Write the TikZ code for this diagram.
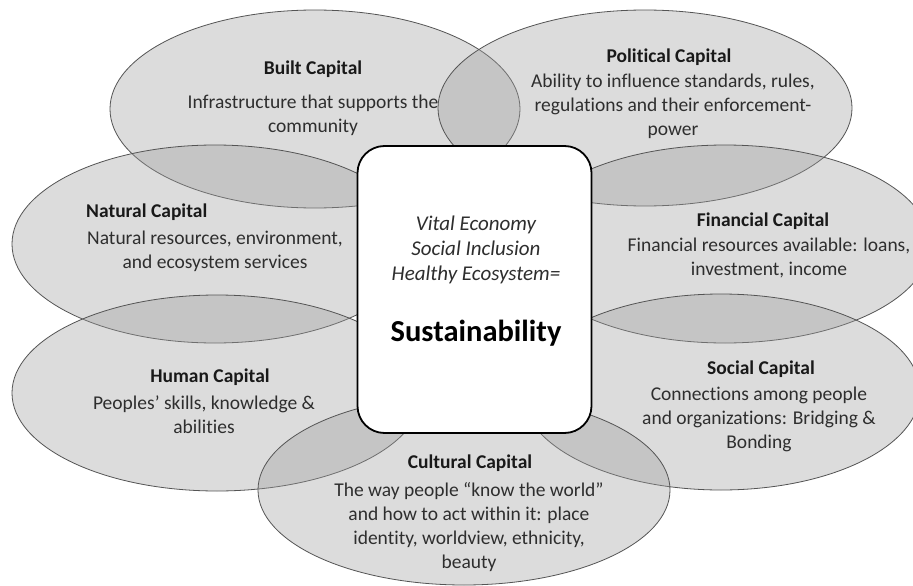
\documentclass[tikz,border=0pt]{standalone}
\usepackage{fontspec}
\setmainfont{Carlito}[Ligatures={NoCommon}]
\usetikzlibrary{shapes.geometric}
\definecolor{ringfill}{gray}{0.62}
\definecolor{ringline}{gray}{0.33}
\definecolor{bodytext}{gray}{0.18}
\tikzset{
  capring/.style={ellipse, draw=ringline, line width=0.8pt, fill=ringfill, fill opacity=0.36, inner sep=0pt},
  captitle/.style={font=\fontsize{19.5}{24}\selectfont\bfseries, text=black!90, inner sep=0pt},
  capdesc/.style={font=\fontsize{19.5}{24}\selectfont, text=bodytext, align=center, inner sep=0pt},
  corebox/.style={draw=black, line width=1.8pt, fill=white, rounded corners=27pt, inner sep=0pt},
  coretext/.style={font=\fontsize{21}{25}\selectfont\itshape, text=bodytext, align=center, inner sep=0pt},
  coretitle/.style={font=\fontsize{30.5}{34}\selectfont\bfseries, text=black, inner sep=0pt}
}
\begin{document}
\begin{tikzpicture}[x=1pt,y=-1pt]
\fill[white] (0,0) rectangle (913,586);
\useasboundingbox (0,0) rectangle (913,586);
% rings
\node[capring, minimum width=410pt, minimum height=198pt] (built) at (315,109) {};
\node[capring, minimum width=414pt, minimum height=196pt] (political) at (645,108) {};
\node[capring, minimum width=406pt, minimum height=198pt] (natural) at (215,244) {};
\node[capring, minimum width=410pt, minimum height=198pt] (financial) at (725,244) {};
\node[capring, minimum width=410pt, minimum height=196pt] (human) at (217,393) {};
\node[capring, minimum width=398pt, minimum height=196pt] (social) at (721,392) {};
\node[capring, minimum width=412pt, minimum height=190pt] (cultural) at (464,490) {};
% centre
\node[corebox, minimum width=234pt, minimum height=287pt] (core) at (474.5,289.5) {};
\node[coretext] (coretxt) at (476,250) {Vital Economy\\Social Inclusion\\Healthy Ecosystem=};
\node[coretitle] (sust) at (476,333) {Sustainability};
% texts
\node[captitle] (builtT) at (313,69) {Built Capital};
\node[capdesc] (builtD) at (313,115) {Infrastructure that supports the\\community};
\node[captitle] (politicalT) at (669,57) {Political Capital};
\node[capdesc] (politicalD) at (673,106) {Ability to influence standards, rules,\\regulations and their enforcement-\\power};
\node[captitle, anchor=west] (naturalT) at (86,212) {Natural Capital};
\node[capdesc] (naturalD) at (215,251.5) {Natural resources, environment,\\and ecosystem services};
\node[captitle] (financialT) at (763,221) {Financial Capital};
\node[capdesc] (financialD) at (769,258) {Financial resources available: loans,\\investment, income};
\node[captitle] (humanT) at (210,377) {Human Capital};
\node[capdesc] (humanD) at (204,414.5) {Peoples’ skills, knowledge \&\\abilities};
\node[captitle] (socialT) at (761,369) {Social Capital};
\node[capdesc] (socialD) at (759,419.5) {Connections among people\\and organizations: Bridging \&\\Bonding};
\node[captitle] (culturalT) at (470,463) {Cultural Capital};
\node[capdesc] (culturalD) at (469,527) {The way people “know the world”\\and how to act within it: place\\identity, worldview, ethnicity,\\beauty};
\end{tikzpicture}
\end{document}
